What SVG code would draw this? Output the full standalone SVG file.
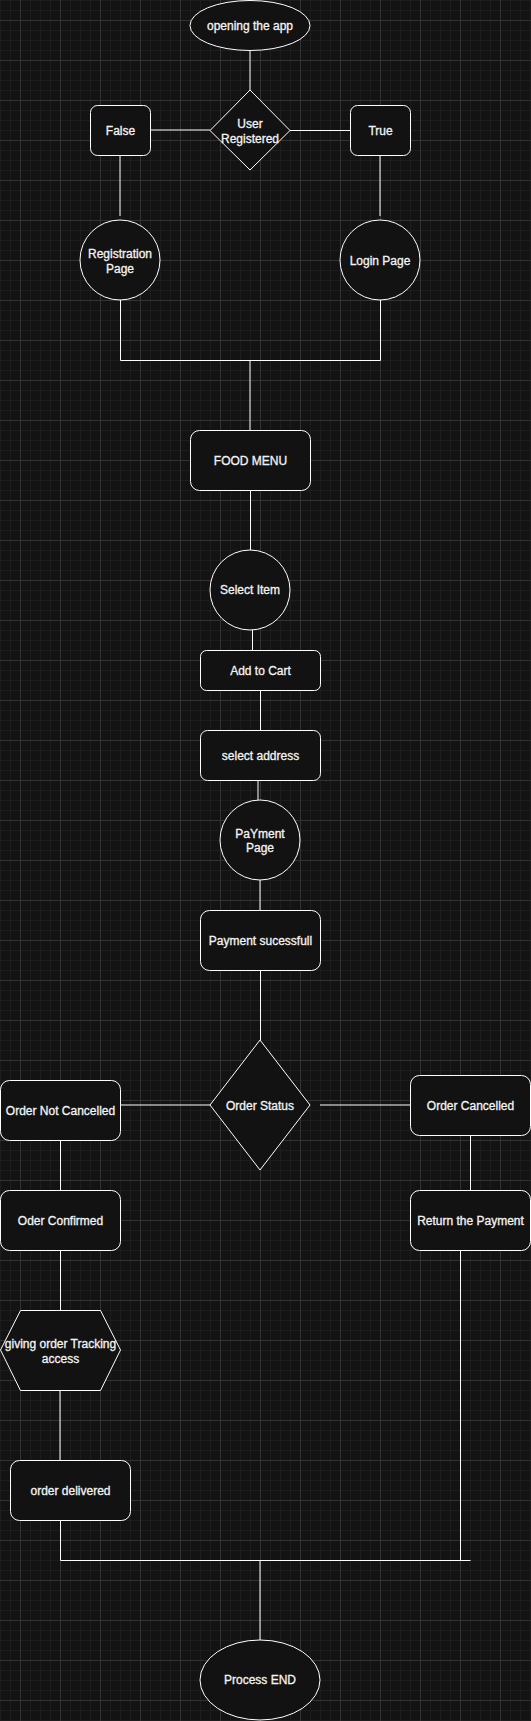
<svg xmlns="http://www.w3.org/2000/svg" width="531" height="1721" viewBox="0 0 531 1721">
<style>
.n{fill:#121212;stroke:#ffffff;stroke-width:1}
.t{font-family:"Liberation Sans",Arial,sans-serif;font-size:12px;fill:#f4f4f4;stroke:#f4f4f4;stroke-width:0.3;text-anchor:middle;dominant-baseline:central}
.c{fill:none;stroke:#ffffff;stroke-width:1}
</style>
<defs>
<pattern id="minor" width="10" height="10" patternUnits="userSpaceOnUse">
<rect x="0" y="0" width="10" height="10" fill="#131313"/>
<rect x="0" y="0" width="1" height="10" fill="#1d1d1d"/>
<rect x="0" y="0" width="10" height="1" fill="#1d1d1d"/>
</pattern>
<pattern id="major" x="20" y="20" width="40" height="40" patternUnits="userSpaceOnUse">
<rect x="0" y="0" width="1" height="40" fill="#333333"/>
<rect x="0" y="0" width="40" height="1" fill="#333333"/>
</pattern>
</defs>
<rect width="531" height="1721" fill="url(#minor)"/>
<rect width="531" height="1721" fill="url(#major)"/>

<g id="connectors">
<path class="c" d="M250 50 V90"/>
<path class="c" d="M150 130 H210"/>
<path class="c" d="M290 130.5 H350"/>
<path class="c" d="M120 155 V216"/>
<path class="c" d="M380 155 V216"/>
<path class="c" d="M120.5 300 V360.5 H380.5 V300"/>
<path class="c" d="M250 360.5 V430"/>
<path class="c" d="M250.5 490 V550"/>
<path class="c" d="M252.5 630 V650"/>
<path class="c" d="M260.5 690 V730"/>
<path class="c" d="M258 780 V800"/>
<path class="c" d="M260 880 V910"/>
<path class="c" d="M260.5 970 V1040"/>
<path class="c" d="M120 1105 H210"/>
<path class="c" d="M320 1105 H410"/>
<path class="c" d="M60.5 1140 V1190"/>
<path class="c" d="M60.5 1250 V1310"/>
<path class="c" d="M60 1390 V1460"/>
<path class="c" d="M60.5 1520 V1560.5 H470.5"/>
<path class="c" d="M470.5 1135 V1190"/>
<path class="c" d="M460.5 1250 V1560.5"/>
<path class="c" d="M260 1561 V1640"/>
</g>

<g id="opening"><ellipse class="n" cx="250" cy="25.5" rx="60" ry="25"/><text class="t" x="250" y="26">opening the app</text></g>
<g id="userRegistered"><polygon class="n" points="250,90 290,130.5 250,170 210,130.5"/><text class="t" x="250" y="124">User</text><text class="t" x="250" y="138.5">Registered</text></g>
<g id="false"><rect class="n" x="90.5" y="105.5" width="60" height="50" rx="7"/><text class="t" x="120.5" y="130.5">False</text></g>
<g id="true"><rect class="n" x="350.5" y="105.5" width="60" height="50" rx="7"/><text class="t" x="380.5" y="130.5">True</text></g>
<g id="registration"><circle class="n" cx="120" cy="260" r="40"/><text class="t" x="120" y="254">Registration</text><text class="t" x="120" y="268.5">Page</text></g>
<g id="login"><circle class="n" cx="380" cy="260" r="40"/><text class="t" x="380" y="261">Login Page</text></g>
<g id="foodMenu"><rect class="n" x="190.5" y="430.5" width="120" height="60" rx="9"/><text class="t" x="250.5" y="460.5">FOOD MENU</text></g>
<g id="selectItem"><circle class="n" cx="250" cy="590" r="40"/><text class="t" x="250" y="590">Select Item</text></g>
<g id="addToCart"><rect class="n" x="200.5" y="650.5" width="120" height="40" rx="6"/><text class="t" x="260.5" y="670.5">Add to Cart</text></g>
<g id="selectAddress"><rect class="n" x="200.5" y="730.5" width="120" height="50" rx="7"/><text class="t" x="260.5" y="755.5">select address</text></g>
<g id="paymentPage"><circle class="n" cx="260" cy="840" r="40"/><text class="t" x="260" y="833.5">PaYment</text><text class="t" x="260" y="848">Page</text></g>
<g id="paymentSuccess"><rect class="n" x="200.5" y="910.5" width="120" height="60" rx="9"/><text class="t" x="260.5" y="940.5">Payment sucessfull</text></g>
<g id="orderStatus"><polygon class="n" points="260,1040 310,1105 260,1170 210,1105"/><text class="t" x="260" y="1106">Order Status</text></g>
<g id="orderNotCancelled"><rect class="n" x="0.5" y="1080.5" width="120" height="60" rx="9"/><text class="t" x="60.5" y="1111">Order Not Cancelled</text></g>
<g id="orderCancelled"><rect class="n" x="410.5" y="1075.5" width="120" height="60" rx="9"/><text class="t" x="470.5" y="1106">Order Cancelled</text></g>
<g id="orderConfirmed"><rect class="n" x="0.5" y="1190.5" width="120" height="60" rx="9"/><text class="t" x="60.5" y="1221">Oder Confirmed</text></g>
<g id="returnPayment"><rect class="n" x="410.5" y="1190.5" width="120" height="60" rx="9"/><text class="t" x="470.5" y="1221">Return the Payment</text></g>
<g id="tracking"><polygon class="n" points="20.5,1310.5 100.5,1310.5 120.5,1350 100.5,1390.5 20.5,1390.5 0.5,1350"/><text class="t" x="60.5" y="1344">giving order Tracking</text><text class="t" x="60.5" y="1359">access</text></g>
<g id="delivered"><rect class="n" x="10.5" y="1460.5" width="120" height="60" rx="9"/><text class="t" x="70.5" y="1490.5">order delivered</text></g>
<g id="processEnd"><ellipse class="n" cx="260" cy="1680" rx="60" ry="40"/><text class="t" x="260" y="1680">Process END</text></g>
</svg>
